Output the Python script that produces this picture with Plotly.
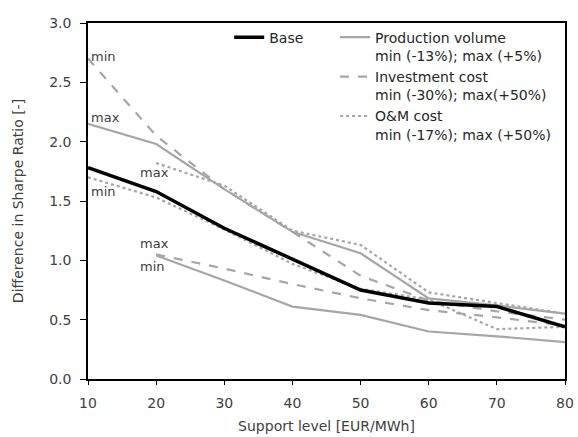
import plotly.graph_objects as go

support = [10, 20, 30, 40, 50, 60, 70, 80]
base = [1.78, 1.58, 1.27, 1.01, 0.75, 0.64, 0.61, 0.44]
prod_max = [2.15, 1.98, 1.60, 1.24, 1.06, 0.68, 0.62, 0.55]
prod_min = [None, 1.04, 0.83, 0.61, 0.54, 0.40, 0.36, 0.31]
inv_min = [2.70, 2.05, 1.60, 1.24, 0.87, 0.66, 0.57, 0.50]
inv_max = [None, 1.05, 0.93, 0.80, 0.68, 0.58, 0.52, 0.45]
om_min = [1.70, 1.53, 1.26, 0.97, 0.76, 0.67, 0.42, 0.44]
om_max = [None, 1.82, 1.63, 1.25, 1.13, 0.73, 0.64, 0.55]

labels = [
    ("min", 10, 2.72), ("max", 10, 2.20), ("min", 10, 1.58),
    ("max", 17.2, 1.74), ("max", 17.2, 1.14), ("min", 17.2, 0.95),
]

GRAY = "#A6A6A6"
FONT = "DejaVu Sans"
TXT = "#404040"
FS = 14

fig = go.Figure()
fig.add_trace(go.Scatter(x=support, y=prod_max, mode="lines", name="Production volume<br>min (-13%); max (+5%)",
                         line=dict(color=GRAY, width=2.2), legend="legend2"))
fig.add_trace(go.Scatter(x=support, y=prod_min, mode="lines", showlegend=False,
                         line=dict(color=GRAY, width=2.2)))
fig.add_trace(go.Scatter(x=support, y=inv_min, mode="lines", name="Investment cost<br>min (-30%); max(+50%)",
                         line=dict(color=GRAY, width=2.2, dash="dash"), legend="legend2"))
fig.add_trace(go.Scatter(x=support, y=inv_max, mode="lines", showlegend=False,
                         line=dict(color=GRAY, width=2.2, dash="dash")))
fig.add_trace(go.Scatter(x=support, y=om_min, mode="lines", name="O&M cost<br>min (-17%); max (+50%)",
                         line=dict(color=GRAY, width=2.2, dash="dot"), legend="legend2"))
fig.add_trace(go.Scatter(x=support, y=om_max, mode="lines", showlegend=False,
                         line=dict(color=GRAY, width=2.2, dash="dot")))
fig.add_trace(go.Scatter(x=support, y=base, mode="lines", name="Base",
                         line=dict(color="black", width=3.5), legend="legend"))

for t, x, y in labels:
    fig.add_annotation(x=x, y=y, text=t, showarrow=False, xanchor="left", yanchor="middle",
                       xshift=1, font=dict(family=FONT, size=13, color=TXT))

fig.update_layout(
    width=578, height=437,
    margin=dict(l=88, r=13, t=23, b=58),
    plot_bgcolor="white", paper_bgcolor="white",
    font=dict(family=FONT, size=FS, color=TXT),
    legend=dict(x=0.296, y=1.004, xanchor="left", yanchor="top", bgcolor="rgba(0,0,0,0)",
                font=dict(family=FONT, size=FS, color="#262626"), valign="top"),
    legend2=dict(x=0.518, y=1.004, xanchor="left", yanchor="top", bgcolor="rgba(0,0,0,0)",
                 font=dict(family=FONT, size=FS, color="#262626"), valign="top",
                 tracegroupgap=0),
    xaxis=dict(range=[10, 80], tickvals=support, showgrid=False, zeroline=False,
               showline=True, linecolor="black", linewidth=1.5, mirror=True,
               ticks="outside", ticklen=4, tickcolor="black", ticklabelstandoff=6,
               automargin=False,
               title=dict(text="Support level [EUR/MWh]", font=dict(size=FS, color=TXT), standoff=12)),
    yaxis=dict(range=[0, 3.0], dtick=0.5, tickformat=".1f", showgrid=False, zeroline=False,
               showline=True, linecolor="black", linewidth=1.5, mirror=True,
               ticks="outside", ticklen=6, tickcolor="black", ticklabelstandoff=6,
               automargin=False,
               title=dict(text="Difference in Sharpe Ratio [-]", font=dict(size=FS, color=TXT), standoff=22)),
)

fig.write_html("out.html")
